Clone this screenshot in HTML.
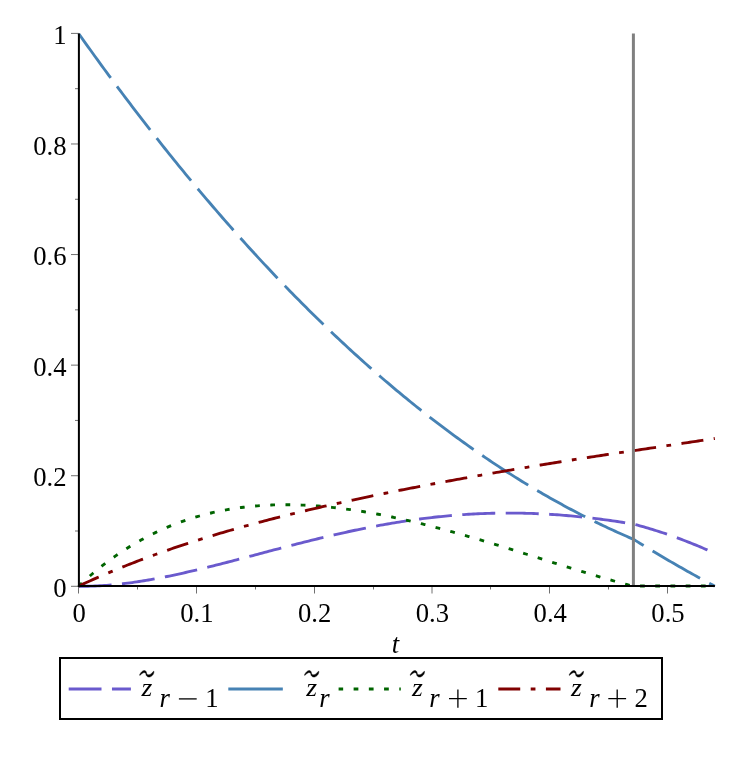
<!DOCTYPE html>
<html><head><meta charset="utf-8"><title>plot</title>
<style>
html,body{margin:0;padding:0;background:#fff;}
svg{display:block;}
svg{will-change:transform;}
text{font-family:"Liberation Serif",serif;font-size:26.67px;fill:#000;}
.i{font-style:italic;}
</style></head><body>
<svg width="747" height="771" viewBox="0 0 747 771">
<rect x="0" y="0" width="747" height="771" fill="#ffffff"/>
<g fill="none" stroke-width="2.85" stroke-linecap="butt" stroke-linejoin="round" stroke-dashoffset="0.2">
<path d="M78.80 586.25 L81.12 586.25 L83.44 586.25 L85.76 586.24 L88.08 586.21 L90.41 586.15 L92.73 586.08 L95.05 585.99 L97.37 585.89 L99.69 585.77 L102.01 585.63 L104.33 585.48 L106.65 585.31 L108.97 585.13 L111.30 584.93 L113.62 584.72 L115.94 584.49 L118.26 584.25 L120.58 584.00 L122.90 583.73 L125.22 583.45 L127.54 583.16 L129.86 582.86 L132.19 582.54 L134.51 582.21 L136.83 581.87 L139.15 581.52 L141.47 581.16 L143.79 580.78 L146.11 580.40 L148.43 580.00 L150.75 579.60 L153.08 579.19 L155.40 578.76 L157.72 578.33 L160.04 577.89 L162.36 577.44 L164.68 576.98 L167.00 576.51 L169.32 576.04 L171.64 575.56 L173.97 575.07 L176.29 574.57 L178.61 574.07 L180.93 573.55 L183.25 573.04 L185.57 572.51 L187.89 571.98 L190.21 571.45 L192.53 570.91 L194.86 570.36 L197.18 569.81 L199.50 569.25 L201.82 568.69 L204.14 568.12 L206.46 567.55 L208.78 566.98 L211.10 566.40 L213.42 565.81 L215.75 565.23 L218.07 564.64 L220.39 564.05 L222.71 563.45 L225.03 562.85 L227.35 562.25 L229.67 561.65 L231.99 561.04 L234.31 560.44 L236.64 559.83 L238.96 559.22 L241.28 558.61 L243.60 557.99 L245.92 557.38 L248.24 556.76 L250.56 556.15 L252.88 555.53 L255.20 554.92 L257.52 554.30 L259.85 553.68 L262.17 553.07 L264.49 552.45 L266.81 551.84 L269.13 551.22 L271.45 550.61 L273.77 549.99 L276.09 549.38 L278.41 548.77 L280.74 548.16 L283.06 547.56 L285.38 546.95 L287.70 546.35 L290.02 545.75 L292.34 545.15 L294.66 544.55 L296.98 543.95 L299.30 543.36 L301.63 542.77 L303.95 542.19 L306.27 541.60 L308.59 541.02 L310.91 540.45 L313.23 539.87 L315.55 539.30 L317.87 538.74 L320.19 538.17 L322.52 537.61 L324.84 537.06 L327.16 536.51 L329.48 535.96 L331.80 535.42 L334.12 534.88 L336.44 534.35 L338.76 533.82 L341.08 533.30 L343.41 532.78 L345.73 532.27 L348.05 531.76 L350.37 531.25 L352.69 530.76 L355.01 530.26 L357.33 529.78 L359.65 529.29 L361.97 528.82 L364.30 528.35 L366.62 527.88 L368.94 527.42 L371.26 526.97 L373.58 526.53 L375.90 526.09 L378.22 525.65 L380.54 525.22 L382.86 524.80 L385.19 524.39 L387.51 523.98 L389.83 523.58 L392.15 523.18 L394.47 522.80 L396.79 522.41 L399.11 522.04 L401.43 521.67 L403.75 521.31 L406.08 520.96 L408.40 520.61 L410.72 520.27 L413.04 519.94 L415.36 519.62 L417.68 519.30 L420.00 518.99 L422.32 518.69 L424.64 518.40 L426.97 518.11 L429.29 517.83 L431.61 517.56 L433.93 517.29 L436.25 517.04 L438.57 516.79 L440.89 516.55 L443.21 516.31 L445.53 516.09 L447.86 515.87 L450.18 515.66 L452.50 515.46 L454.82 515.27 L457.14 515.08 L459.46 514.90 L461.78 514.73 L464.10 514.57 L466.42 514.42 L468.75 514.27 L471.07 514.14 L473.39 514.01 L475.71 513.89 L478.03 513.77 L480.35 513.67 L482.67 513.57 L484.99 513.49 L487.31 513.41 L489.64 513.33 L491.96 513.27 L494.28 513.21 L496.60 513.17 L498.92 513.13 L501.24 513.10 L503.56 513.08 L505.88 513.06 L508.20 513.05 L510.53 513.06 L512.85 513.07 L515.17 513.08 L517.49 513.11 L519.81 513.15 L522.13 513.19 L524.45 513.24 L526.77 513.30 L529.09 513.36 L531.42 513.44 L533.74 513.52 L536.06 513.61 L538.38 513.71 L540.70 513.82 L543.02 513.93 L545.34 514.06 L547.66 514.19 L549.98 514.32 L552.31 514.47 L554.63 514.62 L556.95 514.79 L559.27 514.95 L561.59 515.13 L563.91 515.32 L566.23 515.51 L568.55 515.71 L570.87 515.91 L573.20 516.13 L575.52 516.35 L577.84 516.58 L580.16 516.81 L582.48 517.06 L584.80 517.31 L587.12 517.57 L589.44 517.83 L591.76 518.10 L594.09 518.38 L596.41 518.67 L598.73 518.96 L601.05 519.26 L603.37 519.56 L605.69 519.88 L608.01 520.19 L610.33 520.52 L612.65 520.85 L614.97 521.19 L617.30 521.53 L619.62 521.89 L621.94 522.24 L624.26 522.61 L626.58 522.97 L628.90 523.35 L631.22 523.73 L633.54 524.12 L635.63 524.67 L637.71 525.23 L639.80 525.80 L641.88 526.38 L643.96 526.97 L646.05 527.57 L648.13 528.18 L650.21 528.81 L652.30 529.44 L654.38 530.08 L656.47 530.74 L658.55 531.40 L660.63 532.08 L662.72 532.77 L664.80 533.46 L666.88 534.17 L668.97 534.89 L671.05 535.62 L673.14 536.35 L675.22 537.10 L677.30 537.86 L679.39 538.63 L681.47 539.41 L683.55 540.21 L685.64 541.01 L687.72 541.82 L689.81 542.64 L691.89 543.48 L693.97 544.32 L696.06 545.17 L698.14 546.04 L700.23 546.92 L702.31 547.80 L704.39 548.70 L706.48 549.60 L708.56 550.52 L710.64 551.45 L712.73 552.39 L714.81 553.34" stroke="#6A5ACD" stroke-dasharray="33.00 10.47"/>
<path d="M78.80 33.75 L81.12 37.05 L83.44 40.31 L85.76 43.57 L88.08 46.81 L90.41 50.04 L92.73 53.26 L95.05 56.47 L97.37 59.68 L99.69 62.87 L102.01 66.05 L104.33 69.22 L106.65 72.39 L108.97 75.54 L111.30 78.68 L113.62 81.82 L115.94 84.94 L118.26 88.05 L120.58 91.16 L122.90 94.25 L125.22 97.33 L127.54 100.41 L129.86 103.47 L132.19 106.53 L134.51 109.57 L136.83 112.60 L139.15 115.63 L141.47 118.64 L143.79 121.65 L146.11 124.64 L148.43 127.63 L150.75 130.60 L153.08 133.57 L155.40 136.52 L157.72 139.47 L160.04 142.41 L162.36 145.33 L164.68 148.25 L167.00 151.15 L169.32 154.05 L171.64 156.94 L173.97 159.81 L176.29 162.68 L178.61 165.54 L180.93 168.38 L183.25 171.22 L185.57 174.05 L187.89 176.87 L190.21 179.67 L192.53 182.47 L194.86 185.26 L197.18 188.04 L199.50 190.81 L201.82 193.57 L204.14 196.31 L206.46 199.05 L208.78 201.78 L211.10 204.50 L213.42 207.21 L215.75 209.91 L218.07 212.60 L220.39 215.28 L222.71 217.95 L225.03 220.61 L227.35 223.27 L229.67 225.91 L231.99 228.54 L234.31 231.16 L236.64 233.77 L238.96 236.37 L241.28 238.97 L243.60 241.55 L245.92 244.12 L248.24 246.68 L250.56 249.24 L252.88 251.78 L255.20 254.31 L257.52 256.84 L259.85 259.35 L262.17 261.86 L264.49 264.35 L266.81 266.84 L269.13 269.31 L271.45 271.78 L273.77 274.23 L276.09 276.68 L278.41 279.12 L280.74 281.54 L283.06 283.96 L285.38 286.37 L287.70 288.76 L290.02 291.15 L292.34 293.53 L294.66 295.90 L296.98 298.26 L299.30 300.61 L301.63 302.94 L303.95 305.27 L306.27 307.59 L308.59 309.90 L310.91 312.20 L313.23 314.50 L315.55 316.78 L317.87 319.05 L320.19 321.31 L322.52 323.56 L324.84 325.80 L327.16 328.04 L329.48 330.26 L331.80 332.47 L334.12 334.68 L336.44 336.87 L338.76 339.05 L341.08 341.23 L343.41 343.39 L345.73 345.55 L348.05 347.70 L350.37 349.83 L352.69 351.96 L355.01 354.08 L357.33 356.18 L359.65 358.28 L361.97 360.37 L364.30 362.45 L366.62 364.52 L368.94 366.58 L371.26 368.63 L373.58 370.67 L375.90 372.70 L378.22 374.72 L380.54 376.73 L382.86 378.73 L385.19 380.72 L387.51 382.70 L389.83 384.68 L392.15 386.64 L394.47 388.59 L396.79 390.54 L399.11 392.47 L401.43 394.40 L403.75 396.31 L406.08 398.22 L408.40 400.12 L410.72 402.00 L413.04 403.88 L415.36 405.75 L417.68 407.61 L420.00 409.46 L422.32 411.29 L424.64 413.12 L426.97 414.94 L429.29 416.76 L431.61 418.56 L433.93 420.35 L436.25 422.13 L438.57 423.90 L440.89 425.67 L443.21 427.42 L445.53 429.16 L447.86 430.90 L450.18 432.62 L452.50 434.34 L454.82 436.05 L457.14 437.74 L459.46 439.43 L461.78 441.11 L464.10 442.78 L466.42 444.43 L468.75 446.08 L471.07 447.72 L473.39 449.35 L475.71 450.98 L478.03 452.59 L480.35 454.19 L482.67 455.78 L484.99 457.37 L487.31 458.94 L489.64 460.51 L491.96 462.06 L494.28 463.61 L496.60 465.14 L498.92 466.67 L501.24 468.19 L503.56 469.70 L505.88 471.19 L508.20 472.68 L510.53 474.16 L512.85 475.63 L515.17 477.10 L517.49 478.55 L519.81 479.99 L522.13 481.42 L524.45 482.85 L526.77 484.26 L529.09 485.67 L531.42 487.06 L533.74 488.45 L536.06 489.83 L538.38 491.20 L540.70 492.55 L543.02 493.90 L545.34 495.24 L547.66 496.57 L549.98 497.90 L552.31 499.21 L554.63 500.51 L556.95 501.80 L559.27 503.09 L561.59 504.36 L563.91 505.63 L566.23 506.88 L568.55 508.13 L570.87 509.37 L573.20 510.60 L575.52 511.82 L577.84 513.03 L580.16 514.23 L582.48 515.42 L584.80 516.60 L587.12 517.78 L589.44 518.94 L591.76 520.09 L594.09 521.24 L596.41 522.38 L598.73 523.50 L601.05 524.62 L603.37 525.73 L605.69 526.83 L608.01 527.92 L610.33 529.00 L612.65 530.07 L614.97 531.14 L617.30 532.19 L619.62 533.23 L621.94 534.27 L624.26 535.30 L626.58 536.31 L628.90 537.32 L631.22 538.32 L633.54 539.31 L635.63 540.60 L637.71 541.89 L639.80 543.17 L641.88 544.45 L643.96 545.73 L646.05 547.00 L648.13 548.26 L650.21 549.52 L652.30 550.78 L654.38 552.03 L656.47 553.27 L658.55 554.51 L660.63 555.75 L662.72 556.98 L664.80 558.21 L666.88 559.43 L668.97 560.65 L671.05 561.86 L673.14 563.07 L675.22 564.27 L677.30 565.47 L679.39 566.66 L681.47 567.85 L683.55 569.04 L685.64 570.21 L687.72 571.39 L689.81 572.56 L691.89 573.72 L693.97 574.88 L696.06 576.04 L698.14 577.19 L700.23 578.34 L702.31 579.48 L704.39 580.61 L706.48 581.75 L708.56 582.87 L710.64 583.99 L712.73 585.11 L714.81 586.22" stroke="#4682B4" stroke-dasharray="54.73 10.47"/>
<path d="M78.80 586.25 L81.12 583.79 L83.44 581.66 L85.76 579.57 L88.08 577.52 L90.41 575.51 L92.73 573.53 L95.05 571.59 L97.37 569.68 L99.69 567.81 L102.01 565.98 L104.33 564.17 L106.65 562.41 L108.97 560.68 L111.30 558.98 L113.62 557.31 L115.94 555.68 L118.26 554.08 L120.58 552.51 L122.90 550.98 L125.22 549.47 L127.54 548.00 L129.86 546.55 L132.19 545.14 L134.51 543.76 L136.83 542.41 L139.15 541.08 L141.47 539.79 L143.79 538.52 L146.11 537.29 L148.43 536.08 L150.75 534.90 L153.08 533.75 L155.40 532.62 L157.72 531.52 L160.04 530.45 L162.36 529.40 L164.68 528.38 L167.00 527.39 L169.32 526.42 L171.64 525.47 L173.97 524.55 L176.29 523.66 L178.61 522.79 L180.93 521.94 L183.25 521.12 L185.57 520.32 L187.89 519.54 L190.21 518.79 L192.53 518.06 L194.86 517.35 L197.18 516.67 L199.50 516.00 L201.82 515.36 L204.14 514.74 L206.46 514.14 L208.78 513.56 L211.10 513.00 L213.42 512.46 L215.75 511.95 L218.07 511.45 L220.39 510.97 L222.71 510.51 L225.03 510.07 L227.35 509.65 L229.67 509.25 L231.99 508.87 L234.31 508.51 L236.64 508.16 L238.96 507.83 L241.28 507.52 L243.60 507.23 L245.92 506.96 L248.24 506.70 L250.56 506.46 L252.88 506.23 L255.20 506.03 L257.52 505.83 L259.85 505.66 L262.17 505.50 L264.49 505.36 L266.81 505.23 L269.13 505.12 L271.45 505.02 L273.77 504.94 L276.09 504.87 L278.41 504.82 L280.74 504.78 L283.06 504.76 L285.38 504.75 L287.70 504.76 L290.02 504.77 L292.34 504.81 L294.66 504.85 L296.98 504.91 L299.30 504.99 L301.63 505.07 L303.95 505.17 L306.27 505.28 L308.59 505.41 L310.91 505.54 L313.23 505.69 L315.55 505.85 L317.87 506.02 L320.19 506.21 L322.52 506.40 L324.84 506.61 L327.16 506.83 L329.48 507.06 L331.80 507.30 L334.12 507.55 L336.44 507.82 L338.76 508.09 L341.08 508.38 L343.41 508.67 L345.73 508.98 L348.05 509.29 L350.37 509.62 L352.69 509.95 L355.01 510.29 L357.33 510.65 L359.65 511.01 L361.97 511.39 L364.30 511.77 L366.62 512.16 L368.94 512.56 L371.26 512.97 L373.58 513.39 L375.90 513.81 L378.22 514.25 L380.54 514.69 L382.86 515.14 L385.19 515.60 L387.51 516.07 L389.83 516.54 L392.15 517.02 L394.47 517.52 L396.79 518.01 L399.11 518.52 L401.43 519.03 L403.75 519.55 L406.08 520.08 L408.40 520.61 L410.72 521.15 L413.04 521.70 L415.36 522.25 L417.68 522.81 L420.00 523.38 L422.32 523.95 L424.64 524.53 L426.97 525.11 L429.29 525.70 L431.61 526.30 L433.93 526.90 L436.25 527.51 L438.57 528.12 L440.89 528.74 L443.21 529.36 L445.53 529.99 L447.86 530.62 L450.18 531.26 L452.50 531.90 L454.82 532.55 L457.14 533.20 L459.46 533.86 L461.78 534.52 L464.10 535.18 L466.42 535.85 L468.75 536.52 L471.07 537.20 L473.39 537.88 L475.71 538.56 L478.03 539.25 L480.35 539.94 L482.67 540.63 L484.99 541.33 L487.31 542.03 L489.64 542.73 L491.96 543.44 L494.28 544.15 L496.60 544.86 L498.92 545.57 L501.24 546.28 L503.56 547.00 L505.88 547.72 L508.20 548.44 L510.53 549.16 L512.85 549.89 L515.17 550.61 L517.49 551.34 L519.81 552.07 L522.13 552.80 L524.45 553.53 L526.77 554.26 L529.09 554.99 L531.42 555.72 L533.74 556.45 L536.06 557.19 L538.38 557.92 L540.70 558.65 L543.02 559.39 L545.34 560.12 L547.66 560.85 L549.98 561.58 L552.31 562.32 L554.63 563.05 L556.95 563.78 L559.27 564.50 L561.59 565.23 L563.91 565.96 L566.23 566.68 L568.55 567.40 L570.87 568.13 L573.20 568.84 L575.52 569.56 L577.84 570.28 L580.16 570.99 L582.48 571.70 L584.80 572.40 L587.12 573.11 L589.44 573.81 L591.76 574.50 L594.09 575.20 L596.41 575.89 L598.73 576.57 L601.05 577.25 L603.37 577.93 L605.69 578.61 L608.01 579.27 L610.33 579.94 L612.65 580.60 L614.97 581.25 L617.30 581.90 L619.62 582.54 L621.94 583.18 L624.26 583.81 L626.58 584.44 L628.90 585.06 L631.22 585.67 L633.54 586.25 L635.63 586.00 L637.71 586.00 L639.80 586.00 L641.88 586.00 L643.96 586.00 L646.05 586.00 L648.13 586.00 L650.21 586.00 L652.30 586.00 L654.38 586.00 L656.47 586.00 L658.55 586.00 L660.63 586.00 L662.72 586.00 L664.80 586.00 L666.88 586.00 L668.97 586.00 L671.05 586.00 L673.14 586.00 L675.22 586.00 L677.30 586.00 L679.39 586.00 L681.47 586.00 L683.55 586.00 L685.64 586.00 L687.72 586.00 L689.81 586.00 L691.89 586.00 L693.97 586.00 L696.06 586.00 L698.14 586.00 L700.23 586.00 L702.31 586.00 L704.39 586.00 L706.48 586.00 L708.56 586.00 L710.64 586.00 L712.73 586.00 L714.81 586.00" stroke="#006400" stroke-dasharray="4.75 10.47"/>
<path d="M78.80 586.25 L81.12 584.93 L83.44 583.86 L85.76 582.80 L88.08 581.74 L90.41 580.70 L92.73 579.66 L95.05 578.63 L97.37 577.61 L99.69 576.60 L102.01 575.59 L104.33 574.59 L106.65 573.60 L108.97 572.62 L111.30 571.65 L113.62 570.68 L115.94 569.72 L118.26 568.77 L120.58 567.83 L122.90 566.89 L125.22 565.96 L127.54 565.04 L129.86 564.12 L132.19 563.21 L134.51 562.31 L136.83 561.41 L139.15 560.52 L141.47 559.64 L143.79 558.77 L146.11 557.90 L148.43 557.04 L150.75 556.18 L153.08 555.33 L155.40 554.49 L157.72 553.65 L160.04 552.82 L162.36 552.00 L164.68 551.18 L167.00 550.37 L169.32 549.56 L171.64 548.76 L173.97 547.97 L176.29 547.18 L178.61 546.40 L180.93 545.62 L183.25 544.85 L185.57 544.08 L187.89 543.32 L190.21 542.57 L192.53 541.82 L194.86 541.07 L197.18 540.33 L199.50 539.60 L201.82 538.87 L204.14 538.14 L206.46 537.42 L208.78 536.71 L211.10 536.00 L213.42 535.30 L215.75 534.60 L218.07 533.90 L220.39 533.21 L222.71 532.53 L225.03 531.84 L227.35 531.17 L229.67 530.50 L231.99 529.83 L234.31 529.16 L236.64 528.51 L238.96 527.85 L241.28 527.20 L243.60 526.55 L245.92 525.91 L248.24 525.27 L250.56 524.64 L252.88 524.01 L255.20 523.38 L257.52 522.76 L259.85 522.14 L262.17 521.52 L264.49 520.91 L266.81 520.31 L269.13 519.70 L271.45 519.10 L273.77 518.50 L276.09 517.91 L278.41 517.32 L280.74 516.73 L283.06 516.15 L285.38 515.57 L287.70 515.00 L290.02 514.42 L292.34 513.85 L294.66 513.28 L296.98 512.72 L299.30 512.16 L301.63 511.60 L303.95 511.05 L306.27 510.50 L308.59 509.95 L310.91 509.40 L313.23 508.86 L315.55 508.32 L317.87 507.78 L320.19 507.25 L322.52 506.71 L324.84 506.18 L327.16 505.66 L329.48 505.13 L331.80 504.61 L334.12 504.09 L336.44 503.58 L338.76 503.06 L341.08 502.55 L343.41 502.04 L345.73 501.54 L348.05 501.03 L350.37 500.53 L352.69 500.03 L355.01 499.53 L357.33 499.04 L359.65 498.54 L361.97 498.05 L364.30 497.56 L366.62 497.07 L368.94 496.59 L371.26 496.11 L373.58 495.63 L375.90 495.15 L378.22 494.67 L380.54 494.20 L382.86 493.72 L385.19 493.25 L387.51 492.78 L389.83 492.31 L392.15 491.85 L394.47 491.38 L396.79 490.92 L399.11 490.46 L401.43 490.00 L403.75 489.55 L406.08 489.09 L408.40 488.64 L410.72 488.19 L413.04 487.73 L415.36 487.29 L417.68 486.84 L420.00 486.39 L422.32 485.95 L424.64 485.51 L426.97 485.06 L429.29 484.62 L431.61 484.19 L433.93 483.75 L436.25 483.31 L438.57 482.88 L440.89 482.45 L443.21 482.02 L445.53 481.59 L447.86 481.16 L450.18 480.73 L452.50 480.30 L454.82 479.88 L457.14 479.46 L459.46 479.04 L461.78 478.61 L464.10 478.19 L466.42 477.78 L468.75 477.36 L471.07 476.94 L473.39 476.53 L475.71 476.12 L478.03 475.70 L480.35 475.29 L482.67 474.88 L484.99 474.47 L487.31 474.07 L489.64 473.66 L491.96 473.26 L494.28 472.85 L496.60 472.45 L498.92 472.05 L501.24 471.65 L503.56 471.25 L505.88 470.85 L508.20 470.45 L510.53 470.06 L512.85 469.66 L515.17 469.27 L517.49 468.87 L519.81 468.48 L522.13 468.09 L524.45 467.70 L526.77 467.31 L529.09 466.93 L531.42 466.54 L533.74 466.15 L536.06 465.77 L538.38 465.39 L540.70 465.01 L543.02 464.62 L545.34 464.25 L547.66 463.87 L549.98 463.49 L552.31 463.11 L554.63 462.74 L556.95 462.36 L559.27 461.99 L561.59 461.62 L563.91 461.25 L566.23 460.88 L568.55 460.51 L570.87 460.14 L573.20 459.78 L575.52 459.41 L577.84 459.05 L580.16 458.69 L582.48 458.32 L584.80 457.96 L587.12 457.60 L589.44 457.25 L591.76 456.89 L594.09 456.54 L596.41 456.18 L598.73 455.83 L601.05 455.48 L603.37 455.13 L605.69 454.78 L608.01 454.43 L610.33 454.08 L612.65 453.74 L614.97 453.40 L617.30 453.05 L619.62 452.71 L621.94 452.37 L624.26 452.04 L626.58 451.70 L628.90 451.36 L631.22 451.03 L633.54 450.70 L635.63 450.39 L637.71 450.07 L639.80 449.76 L641.88 449.45 L643.96 449.13 L646.05 448.82 L648.13 448.51 L650.21 448.20 L652.30 447.88 L654.38 447.57 L656.47 447.26 L658.55 446.95 L660.63 446.63 L662.72 446.32 L664.80 446.01 L666.88 445.70 L668.97 445.38 L671.05 445.07 L673.14 444.76 L675.22 444.45 L677.30 444.13 L679.39 443.82 L681.47 443.51 L683.55 443.20 L685.64 442.88 L687.72 442.57 L689.81 442.26 L691.89 441.95 L693.97 441.63 L696.06 441.32 L698.14 441.01 L700.23 440.70 L702.31 440.38 L704.39 440.07 L706.48 439.76 L708.56 439.45 L710.64 439.13 L712.73 438.82 L714.81 438.51" stroke="#800000" stroke-dasharray="22.13 10.47 4.75 10.47"/>
</g>
<line x1="633.4" y1="33.4" x2="633.4" y2="586" stroke="#808080" stroke-width="3"/>
<g stroke="#707070" stroke-width="1">
<line x1="71.00" y1="586.30" x2="78.80" y2="586.30"/>
<line x1="75.00" y1="531.01" x2="78.80" y2="531.01"/>
<line x1="71.00" y1="475.72" x2="78.80" y2="475.72"/>
<line x1="75.00" y1="420.43" x2="78.80" y2="420.43"/>
<line x1="71.00" y1="365.14" x2="78.80" y2="365.14"/>
<line x1="75.00" y1="309.85" x2="78.80" y2="309.85"/>
<line x1="71.00" y1="254.56" x2="78.80" y2="254.56"/>
<line x1="75.00" y1="199.27" x2="78.80" y2="199.27"/>
<line x1="71.00" y1="143.98" x2="78.80" y2="143.98"/>
<line x1="75.00" y1="88.69" x2="78.80" y2="88.69"/>
<line x1="71.00" y1="33.40" x2="78.80" y2="33.40"/>
<line x1="78.50" y1="585.90" x2="78.50" y2="593.50"/>
<line x1="137.50" y1="585.90" x2="137.50" y2="589.50"/>
<line x1="196.50" y1="585.90" x2="196.50" y2="593.50"/>
<line x1="255.50" y1="585.90" x2="255.50" y2="589.50"/>
<line x1="314.50" y1="585.90" x2="314.50" y2="593.50"/>
<line x1="373.50" y1="585.90" x2="373.50" y2="589.50"/>
<line x1="432.00" y1="585.90" x2="432.00" y2="593.50"/>
<line x1="490.50" y1="585.90" x2="490.50" y2="589.50"/>
<line x1="549.50" y1="585.90" x2="549.50" y2="593.50"/>
<line x1="608.50" y1="585.90" x2="608.50" y2="589.50"/>
<line x1="667.50" y1="585.90" x2="667.50" y2="593.50"/>
</g>
<g stroke="#000" stroke-width="2">
<line x1="78.9" y1="33.45" x2="78.9" y2="587"/>
<line x1="77.9" y1="586" x2="714.9" y2="586"/>
</g>
<text x="66.6" y="596.70" text-anchor="end">0</text>
<text x="66.6" y="486.20" text-anchor="end">0.2</text>
<text x="66.6" y="375.70" text-anchor="end">0.4</text>
<text x="66.6" y="265.20" text-anchor="end">0.6</text>
<text x="66.6" y="154.70" text-anchor="end">0.8</text>
<text x="66.6" y="44.20" text-anchor="end">1</text>
<text x="79.10" y="622.3" text-anchor="middle">0</text>
<text x="196.88" y="622.3" text-anchor="middle">0.1</text>
<text x="314.66" y="622.3" text-anchor="middle">0.2</text>
<text x="432.44" y="622.3" text-anchor="middle">0.3</text>
<text x="550.22" y="622.3" text-anchor="middle">0.4</text>
<text x="668.00" y="622.3" text-anchor="middle">0.5</text>
<text class="i" x="391.8" y="652.6">t</text>
<rect x="60" y="658" width="602" height="61" fill="none" stroke="#000" stroke-width="2"/>
<g fill="none" stroke-width="2.85" stroke-dashoffset="0.2">
<line x1="68.7" y1="689.0" x2="130.9" y2="689.0" stroke="#6A5ACD" stroke-dasharray="33.00 10.47"/>
<line x1="228.3" y1="689.0" x2="290.5" y2="689.0" stroke="#4682B4" stroke-dasharray="54.73 10.47"/>
<line x1="338.6" y1="689.0" x2="400.8" y2="689.0" stroke="#006400" stroke-dasharray="4.75 10.47"/>
<line x1="498.3" y1="689.0" x2="560.5" y2="689.0" stroke="#800000" stroke-dasharray="22.13 10.47 4.75 10.47"/>
</g>
<text class="i" transform="translate(141.40 696.10) scale(1.04 0.93)" x="0" y="0">z</text>
<path d="M139.61 675.28 Q139.39 675.13 140.05 673.95 Q140.71 672.77 141.60 671.89 Q142.48 671.01 143.44 670.71 Q144.39 670.42 145.13 670.71 Q145.87 671.01 146.16 671.67 Q146.46 672.33 146.60 673.14 Q146.75 673.95 147.27 674.39 Q147.78 674.84 148.52 674.84 Q149.25 674.84 150.14 674.39 Q151.02 673.95 151.76 673.22 Q152.49 672.48 153.08 671.74 Q153.67 671.01 153.85 671.23 Q154.03 671.45 153.85 672.55 Q153.67 673.66 153.08 674.54 Q152.49 675.43 151.61 676.09 Q150.73 676.75 149.84 676.97 Q148.96 677.19 148.08 676.90 Q147.19 676.60 146.68 676.01 Q146.16 675.43 146.01 674.54 Q145.87 673.66 145.65 673.22 Q145.43 672.77 144.69 672.63 Q143.95 672.48 143.22 672.85 Q142.48 673.22 141.74 673.81 Q141.01 674.39 140.42 674.91 Q139.83 675.43 139.61 675.28Z" fill="#000" stroke="#000" stroke-width="0.45" stroke-linejoin="round"/>
<text class="i" x="159.50" y="706.70">r</text>
<line x1="178.90" y1="698.9" x2="196.70" y2="698.9" stroke="#000" stroke-width="1.3"/>
<text x="205.30" y="706.70">1</text>
<text class="i" transform="translate(306.30 696.10) scale(1.04 0.93)" x="0" y="0">z</text>
<path d="M304.51 675.28 Q304.29 675.13 304.95 673.95 Q305.61 672.77 306.50 671.89 Q307.38 671.01 308.34 670.71 Q309.29 670.42 310.03 670.71 Q310.77 671.01 311.06 671.67 Q311.36 672.33 311.50 673.14 Q311.65 673.95 312.17 674.39 Q312.68 674.84 313.42 674.84 Q314.15 674.84 315.04 674.39 Q315.92 673.95 316.66 673.22 Q317.39 672.48 317.98 671.74 Q318.57 671.01 318.75 671.23 Q318.93 671.45 318.75 672.55 Q318.57 673.66 317.98 674.54 Q317.39 675.43 316.51 676.09 Q315.63 676.75 314.74 676.97 Q313.86 677.19 312.98 676.90 Q312.09 676.60 311.58 676.01 Q311.06 675.43 310.91 674.54 Q310.77 673.66 310.55 673.22 Q310.33 672.77 309.59 672.63 Q308.85 672.48 308.12 672.85 Q307.38 673.22 306.64 673.81 Q305.91 674.39 305.32 674.91 Q304.73 675.43 304.51 675.28Z" fill="#000" stroke="#000" stroke-width="0.45" stroke-linejoin="round"/>
<text class="i" x="319.20" y="706.70">r</text>
<text class="i" transform="translate(412.00 696.10) scale(1.04 0.93)" x="0" y="0">z</text>
<path d="M410.21 675.28 Q409.99 675.13 410.65 673.95 Q411.31 672.77 412.20 671.89 Q413.08 671.01 414.04 670.71 Q414.99 670.42 415.73 670.71 Q416.47 671.01 416.76 671.67 Q417.06 672.33 417.20 673.14 Q417.35 673.95 417.87 674.39 Q418.38 674.84 419.12 674.84 Q419.85 674.84 420.74 674.39 Q421.62 673.95 422.36 673.22 Q423.09 672.48 423.68 671.74 Q424.27 671.01 424.45 671.23 Q424.63 671.45 424.45 672.55 Q424.27 673.66 423.68 674.54 Q423.09 675.43 422.21 676.09 Q421.33 676.75 420.44 676.97 Q419.56 677.19 418.68 676.90 Q417.79 676.60 417.28 676.01 Q416.76 675.43 416.61 674.54 Q416.47 673.66 416.25 673.22 Q416.03 672.77 415.29 672.63 Q414.55 672.48 413.82 672.85 Q413.08 673.22 412.34 673.81 Q411.61 674.39 411.02 674.91 Q410.43 675.43 410.21 675.28Z" fill="#000" stroke="#000" stroke-width="0.45" stroke-linejoin="round"/>
<text class="i" x="429.20" y="706.70">r</text>
<path d="M449.00 698.7 H466.80 M457.90 689.6 V707.8" stroke="#000" stroke-width="1.3" fill="none"/>
<text x="475.00" y="706.70">1</text>
<text class="i" transform="translate(571.00 696.10) scale(1.04 0.93)" x="0" y="0">z</text>
<path d="M569.21 675.28 Q568.99 675.13 569.65 673.95 Q570.31 672.77 571.20 671.89 Q572.08 671.01 573.04 670.71 Q573.99 670.42 574.73 670.71 Q575.47 671.01 575.76 671.67 Q576.06 672.33 576.20 673.14 Q576.35 673.95 576.87 674.39 Q577.38 674.84 578.12 674.84 Q578.85 674.84 579.74 674.39 Q580.62 673.95 581.36 673.22 Q582.09 672.48 582.68 671.74 Q583.27 671.01 583.45 671.23 Q583.63 671.45 583.45 672.55 Q583.27 673.66 582.68 674.54 Q582.09 675.43 581.21 676.09 Q580.33 676.75 579.44 676.97 Q578.56 677.19 577.68 676.90 Q576.79 676.60 576.28 676.01 Q575.76 675.43 575.61 674.54 Q575.47 673.66 575.25 673.22 Q575.03 672.77 574.29 672.63 Q573.55 672.48 572.82 672.85 Q572.08 673.22 571.34 673.81 Q570.61 674.39 570.02 674.91 Q569.43 675.43 569.21 675.28Z" fill="#000" stroke="#000" stroke-width="0.45" stroke-linejoin="round"/>
<text class="i" x="589.20" y="706.70">r</text>
<path d="M608.30 698.7 H626.10 M617.20 689.6 V707.8" stroke="#000" stroke-width="1.3" fill="none"/>
<text x="634.40" y="706.70">2</text>
</svg></body></html>
